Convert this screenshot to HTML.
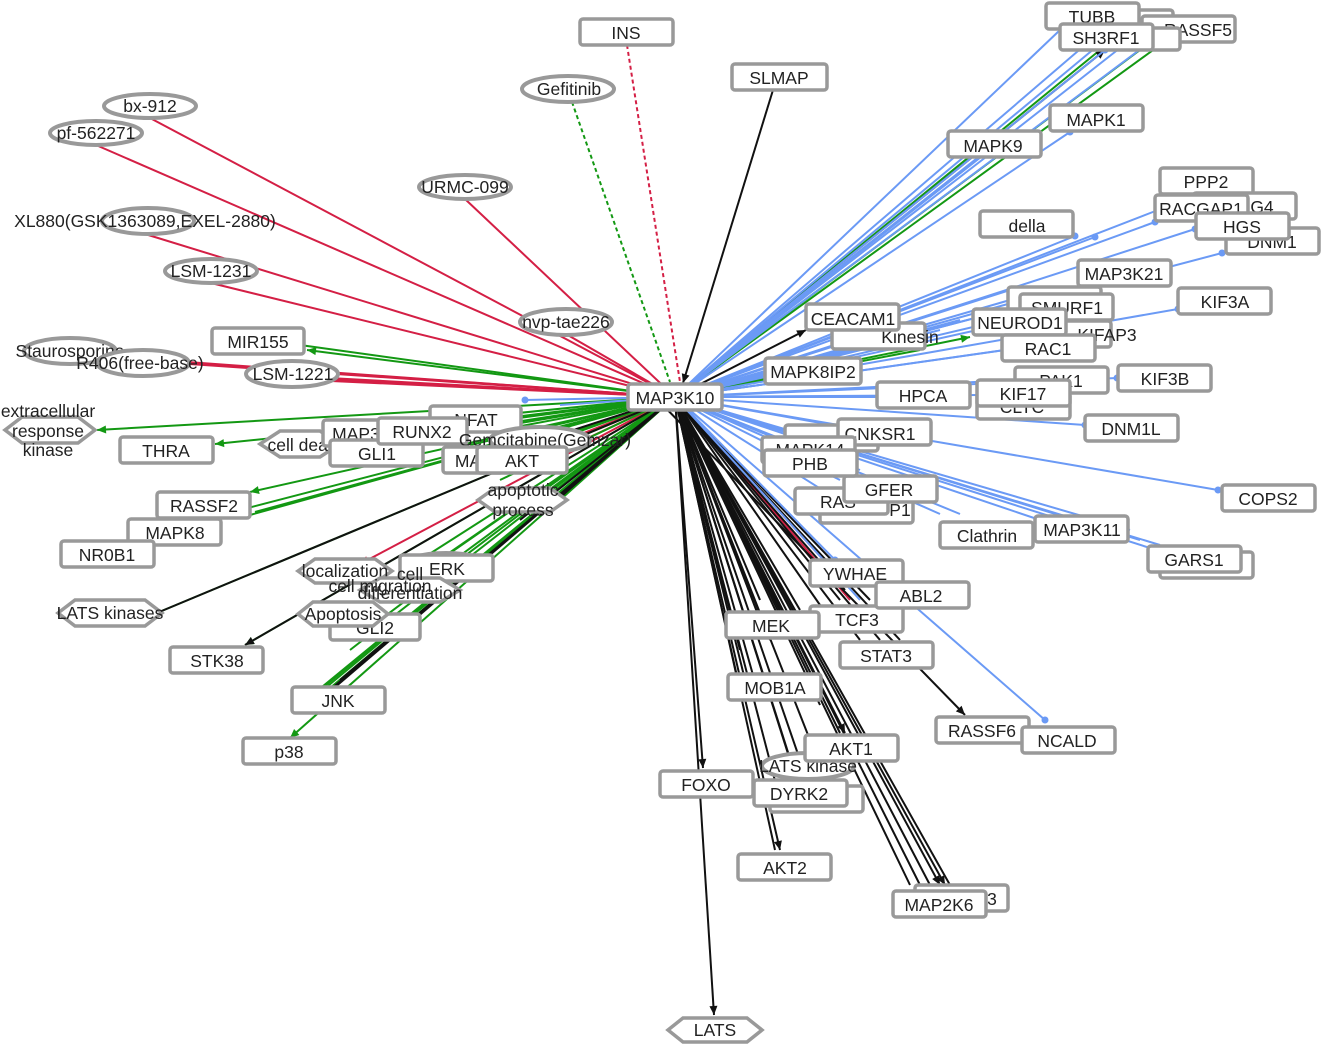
<!DOCTYPE html>
<html><head><meta charset="utf-8"><style>
html,body{margin:0;padding:0;background:#fff;}
svg{display:block;}
.r{fill:#fff;stroke:#999;stroke-width:3.5;}
.e{fill:#fff;stroke:#999;stroke-width:4;}
.h{fill:#fff;stroke:#999;stroke-width:3.5;}
text{font-family:"Liberation Sans",sans-serif;font-size:17.5px;fill:#222;text-anchor:middle;}
</style></head><body>
<svg id="s" width="1322" height="1046" viewBox="0 0 1322 1046">
<g id="edges"></g>
<g id="nodes">
<rect class="r" x="580" y="19" width="93" height="26" rx="3"/><text x="626" y="39">INS</text>
<rect class="r" x="732" y="64" width="95" height="26" rx="3"/><text x="779" y="84">SLMAP</text>
<ellipse class="e" cx="568" cy="89" rx="46" ry="13"/><text x="569" y="95">Gefitinib</text>
<ellipse class="e" cx="150" cy="106" rx="46" ry="12"/><text x="150" y="112">bx-912</text>
<ellipse class="e" cx="96" cy="133" rx="46" ry="12"/><text x="96" y="139">pf-562271</text>
<ellipse class="e" cx="148" cy="221" rx="46" ry="13"/><text x="145" y="227">XL880(GSK1363089,EXEL-2880)</text>
<ellipse class="e" cx="465" cy="187" rx="46" ry="12"/><text x="465" y="193">URMC-099</text>
<ellipse class="e" cx="211" cy="271" rx="46" ry="12"/><text x="211" y="277">LSM-1231</text>
<ellipse class="e" cx="566" cy="322" rx="46" ry="13"/><text x="566" y="328">nvp-tae226</text>
<rect class="r" x="212" y="328" width="92" height="26" rx="3"/><text x="258" y="348">MIR155</text>
<ellipse class="e" cx="70" cy="351" rx="46" ry="13"/><text x="70" y="357">Staurosporine</text>
<ellipse class="e" cx="143" cy="363" rx="46" ry="13"/><text x="140" y="369">R406(free-base)</text>
<ellipse class="e" cx="292" cy="374" rx="46" ry="13"/><text x="293" y="380">LSM-1221</text>
<polygon class="h" points="5,430 22,417 78,417 95,430 78,443 22,443"/>
<text x="48" y="417">extracellular</text><text x="48" y="437">response</text><text x="48" y="456">kinase</text>
<rect class="r" x="120" y="437" width="93" height="26" rx="3"/><text x="166" y="457">THRA</text>
<polygon class="h" points="260,444 280,431 320,431 340,444 320,457 280,457"/><text x="305" y="451">cell death</text>
<rect class="r" x="430" y="406" width="91" height="26" rx="3"/><text x="476" y="426">NFAT</text>
<rect class="r" x="323" y="420" width="62" height="26" rx="3"/><text x="356" y="440">MAP3</text>
<rect class="r" x="330" y="440" width="93" height="26" rx="3"/><text x="377" y="460">GLI1</text>
<rect class="r" x="378" y="418" width="89" height="26" rx="3"/><text x="422" y="438">RUNX2</text>
<ellipse class="e" cx="540" cy="440" rx="50" ry="13"/><text x="545" y="446">Gemcitabine(Gemzar)</text>
<rect class="r" x="443" y="447" width="60" height="26" rx="3"/><text x="468" y="467">MA</text>
<rect class="r" x="477" y="447" width="90" height="26" rx="3"/><text x="522" y="467">AKT</text>
<polygon class="h" points="478,500 495,488 550,488 567,500 550,512 495,512"/>
<text x="523" y="496">apoptotic</text><text x="523" y="516">process</text>
<rect class="r" x="157" y="492" width="93" height="26" rx="3"/><text x="204" y="512">RASSF2</text>
<rect class="r" x="128" y="519" width="93" height="26" rx="3"/><text x="175" y="539">MAPK8</text>
<rect class="r" x="61" y="541" width="93" height="26" rx="3"/><text x="107" y="561">NR0B1</text>
<polygon class="h" points="58,613 75,600 145,600 162,613 145,626 75,626"/><text x="110" y="619">LATS kinases</text>
<ellipse class="e" cx="446" cy="567" rx="45" ry="14"/>
<rect class="r" x="400" y="555" width="93" height="26" rx="3"/><text x="447" y="575">ERK</text>
<polygon class="h" points="298,571 315,559 375,559 392,571 375,583 315,583"/><text x="345" y="577">localization</text>
<polygon class="h" points="360,590 380,578 440,578 460,590 440,602 380,602"/><text x="410" y="580">cell</text><text x="410" y="599">differentiation</text>
<text x="380" y="592">cell migration</text>
<rect class="r" x="330" y="614" width="90" height="26" rx="3"/><text x="375" y="634">GLI2</text>
<polygon class="h" points="298,614 313,602 373,602 388,614 373,626 313,626"/><text x="343" y="620">Apoptosis</text>
<rect class="r" x="170" y="647" width="93" height="26" rx="3"/><text x="217" y="667">STK38</text>
<rect class="r" x="292" y="687" width="93" height="26" rx="3"/><text x="338" y="707">JNK</text>
<rect class="r" x="243" y="738" width="93" height="26" rx="3"/><text x="289" y="758">p38</text>
<rect class="r" x="660" y="771" width="93" height="26" rx="3"/><text x="706" y="791">FOXO</text>
<polygon class="h" points="668,1030 683,1018 747,1018 762,1030 747,1042 683,1042"/><text x="715" y="1036">LATS</text>
<rect class="r" x="738" y="854" width="93" height="26" rx="3"/><text x="785" y="874">AKT2</text>
<rect class="r" x="915" y="885" width="93" height="26" rx="3"/><text x="992" y="905">3</text>
<rect class="r" x="893" y="891" width="93" height="26" rx="3"/><text x="939" y="911">MAP2K6</text>
<rect class="r" x="770" y="786" width="93" height="26" rx="3"/>
<rect class="r" x="754" y="780" width="93" height="26" rx="3"/><text x="799" y="800">DYRK2</text>
<ellipse class="e" cx="808" cy="766" rx="46" ry="13"/><text x="808" y="772">LATS kinase</text>
<rect class="r" x="805" y="735" width="93" height="26" rx="3"/><text x="851" y="755">AKT1</text>
<rect class="r" x="728" y="674" width="93" height="26" rx="3"/><text x="775" y="694">MOB1A</text>
<rect class="r" x="810" y="606" width="93" height="26" rx="3"/><text x="857" y="626">TCF3</text>
<rect class="r" x="726" y="612" width="93" height="26" rx="3"/><text x="771" y="632">MEK</text>
<rect class="r" x="840" y="642" width="93" height="26" rx="3"/><text x="886" y="662">STAT3</text>
<rect class="r" x="810" y="560" width="93" height="26" rx="3"/><text x="855" y="580">YWHAE</text>
<rect class="r" x="876" y="582" width="93" height="26" rx="3"/><text x="921" y="602">ABL2</text>
<rect class="r" x="936" y="717" width="93" height="26" rx="3"/><text x="982" y="737">RASSF6</text>
<rect class="r" x="1022" y="727" width="93" height="26" rx="3"/><text x="1067" y="747">NCALD</text>
<rect class="r" x="940" y="522" width="93" height="26" rx="3"/><text x="987" y="542">Clathrin</text>
<rect class="r" x="1035" y="516" width="93" height="26" rx="3"/><text x="1082" y="536">MAP3K11</text>
<rect class="r" x="1160" y="552" width="93" height="26" rx="3"/>
<rect class="r" x="1148" y="546" width="93" height="26" rx="3"/><text x="1194" y="566">GARS1</text>
<rect class="r" x="1222" y="485" width="93" height="26" rx="3"/><text x="1268" y="505">COPS2</text>
<rect class="r" x="820" y="497" width="93" height="26" rx="3"/><text x="900" y="516">P1</text>
<rect class="r" x="795" y="488" width="93" height="26" rx="3"/><text x="838" y="508">RAS</text>
<rect class="r" x="844" y="476" width="93" height="26" rx="3"/><text x="889" y="496">GFER</text>
<rect class="r" x="785" y="425" width="93" height="26" rx="3"/>
<rect class="r" x="838" y="419" width="93" height="26" rx="3"/><text x="880" y="440">CNKSR1</text>
<rect class="r" x="762" y="437" width="93" height="26" rx="3"/><text x="810" y="456">MAPK14</text>
<rect class="r" x="764" y="450" width="93" height="26" rx="3"/><text x="810" y="470">PHB</text>
<rect class="r" x="1085" y="415" width="93" height="26" rx="3"/><text x="1131" y="435">DNM1L</text>
<rect class="r" x="1015" y="367" width="93" height="26" rx="3"/><text x="1061" y="387">PAK1</text>
<rect class="r" x="1118" y="365" width="93" height="26" rx="3"/><text x="1165" y="385">KIF3B</text>
<rect class="r" x="977" y="393" width="93" height="26" rx="3"/><text x="1022" y="413">CLTC</text>
<rect class="r" x="977" y="380" width="93" height="26" rx="3"/><text x="1023" y="400">KIF17</text>
<rect class="r" x="877" y="382" width="93" height="26" rx="3"/><text x="923" y="402">HPCA</text>
<rect class="r" x="765" y="358" width="96" height="26" rx="3"/><text x="813" y="378">MAPK8IP2</text>
<rect class="r" x="1008" y="287" width="93" height="26" rx="3"/>
<rect class="r" x="1020" y="294" width="93" height="26" rx="3"/><text x="1067" y="314">SMURF1</text>
<rect class="r" x="1018" y="321" width="93" height="26" rx="3"/><text x="1107" y="341">KIFAP3</text>
<rect class="r" x="973" y="309" width="93" height="26" rx="3"/><text x="1020" y="329">NEUROD1</text>
<rect class="r" x="1002" y="335" width="93" height="26" rx="3"/><text x="1048" y="355">RAC1</text>
<rect class="r" x="832" y="323" width="93" height="26" rx="3"/><text x="910" y="343">Kinesin</text>
<rect class="r" x="806" y="304" width="93" height="26" rx="3"/><text x="853" y="325">CEACAM1</text>
<rect class="r" x="1178" y="288" width="93" height="26" rx="3"/><text x="1225" y="308">KIF3A</text>
<rect class="r" x="1078" y="260" width="93" height="26" rx="3"/><text x="1124" y="280">MAP3K21</text>
<rect class="r" x="980" y="211" width="93" height="26" rx="3"/><text x="1027" y="232">della</text>
<rect class="r" x="1160" y="168" width="93" height="26" rx="3"/><text x="1206" y="188">PPP2</text>
<rect class="r" x="1193" y="193" width="103" height="26" rx="3"/><text x="1262" y="213">G4</text>
<rect class="r" x="1155" y="195" width="93" height="26" rx="3"/><text x="1201" y="215">RACGAP1</text>
<rect class="r" x="1226" y="228" width="93" height="26" rx="3"/><text x="1272" y="248">DNM1</text>
<rect class="r" x="1196" y="213" width="93" height="26" rx="3"/><text x="1242" y="233">HGS</text>
<rect class="r" x="948" y="131" width="93" height="26" rx="3"/><text x="993" y="152">MAPK9</text>
<rect class="r" x="1050" y="105" width="93" height="26" rx="3"/><text x="1096" y="126">MAPK1</text>
<rect class="r" x="1108" y="10" width="65" height="26" rx="3"/>
<rect class="r" x="1142" y="16" width="93" height="26" rx="3"/><text x="1198" y="36">RASSF5</text>
<rect class="r" x="1150" y="28" width="30" height="22" rx="3"/>
<rect class="r" x="1046" y="3" width="93" height="26" rx="3"/><text x="1092" y="23">TUBB</text>
<rect class="r" x="1060" y="24" width="93" height="26" rx="3"/><text x="1106" y="44">SH3RF1</text>
<rect class="r" x="628" y="384" width="94" height="26" rx="3"/><text x="675" y="404">MAP3K10</text>
</g>
</svg>
<script>
var R="#d41f45",G="#139813",B="#6b9af5",K="#111";
var cx=675,cy=397;
var E=[
[150,118,R],[96,145,R],[145,234,R],[465,199,R],[211,283,R],[566,334,R],
[90,355,R],[150,360,R],[160,362,R],[292,376,R],[300,378,R],[310,380,R],
[360,564,R,1],[490,470,R],[520,470,R],[840,578,R],[850,600,R],
[307,350,G,1],[300,345,G],[97,430,G,1],[215,444,G,1],[250,492,G,1],[240,510,G],[250,515,G],[255,512,G],
[140,620,G,1],[245,645,G,1],[300,705,G,1],[305,705,G],[310,705,G],[290,738,G,1],
[400,440,G],[420,440,G],[430,430,G],[450,455,G],[470,445,G],[500,460,G],[500,480,G],[530,500,G],[560,500,G],
[420,560,G],[440,560,G],[410,580,G],[400,600,G],[380,620,G],[350,650,G],[330,690,G],[320,690,G],
[500,430,G],[460,470,G],[490,420,G],
[1100,50,G],[1140,50,G],[1160,45,G],[970,337,G,1],[920,350,G],
[140,620,K,1],[245,645,K,1],[320,700,K],[330,690,K],[340,680,K],[450,470,K],[520,520,K],[540,515,K],
[773,90,K,2],[806,330,K,1],[1105,50,K,1],
[703,768,K,1],[714,1015,K,1],[780,850,K,1],[775,850,K],[940,885,K,1],[945,885,K,1],[950,885,K],[930,885,K],
[845,733,K,1],[840,733,K],[820,705,K],[810,740,K],[800,760,K],[790,760,K],[760,700,K],[750,700,K],[740,650,K],
[760,600,K],[780,610,K],[800,610,K],[820,605,K],[840,600,K],[860,640,K],[880,640,K],[900,640,K],[845,590,K],[870,600,K],
[965,715,K,1,880,655],[760,620,K],[770,640,K],[740,690,K],[780,800,K],[800,790,K],[910,885,K],[920,885,K],
[1105,50,B,3],[1095,48,B,3],[1085,45,B,3],[1120,48,B,3],[1150,42,B],[1060,30,B],[1000,140,B,3],[1070,132,B,3],[995,150,B],
[1155,222,B,3],[1158,210,B,3],[1195,229,B,3],[1222,253,B,3],[1095,237,B,3],[1075,236,B,3],[1100,285,B,3],[1178,309,B,3],
[1010,300,B],[1020,316,B],[1000,325,B],[1005,350,B,3],[1040,345,B],[1117,378,B,3],[1015,380,B],[980,395,B],[880,397,B,3],
[1085,425,B,3],[1218,490,B,3],[1140,540,B],[1150,548,B],[1160,545,B],[1130,530,B],[1045,720,B,3],[860,600,B],[835,560,B,3],
[870,520,B,3],[940,514,B],[860,470,B],[840,480,B],[820,455,B],[860,430,B],[1040,520,B],[960,514,B],
[830,375,B],[850,330,B],[880,330,B],[940,330,B],[960,320,B],[1010,290,B],[1040,295,B],
[525,400,B,3],[560,405,B]
];
var g=document.getElementById("edges"),h="";
E.forEach(function(e){
 var x1=e[5]!==undefined?e[5]:cx,y1=e[6]!==undefined?e[6]:cy;
 var x2=e[0],y2=e[1];
 if(e[3]===2){x1=x2;y1=y2;x2=683;y2=383;}
 h+='<line x1="'+x1+'" y1="'+y1+'" x2="'+x2+'" y2="'+y2+'" stroke="'+e[2]+'" stroke-width="2"/>';
 var dx=x2-x1,dy=y2-y1,L=Math.sqrt(dx*dx+dy*dy),ux=dx/L,uy=dy/L;
 if(e[3]===1||e[3]===2){
  var bx=x2-ux*9,by=y2-uy*9,px=-uy*4,py=ux*4;
  h+='<polygon points="'+x2+','+y2+' '+(bx+px)+','+(by+py)+' '+(bx-px)+','+(by-py)+'" fill="'+e[2]+'"/>';
 } else if(e[3]===3){
  h+='<circle cx="'+x2+'" cy="'+y2+'" r="3.5" fill="'+e[2]+'"/>';
 }
});
h+='<line x1="627" y1="45" x2="680" y2="382" stroke="'+R+'" stroke-width="2" stroke-dasharray="4,3"/>';
h+='<line x1="572" y1="102" x2="670" y2="382" stroke="'+G+'" stroke-width="2" stroke-dasharray="4,3"/>';
g.innerHTML=h;
</script>
</body></html>
